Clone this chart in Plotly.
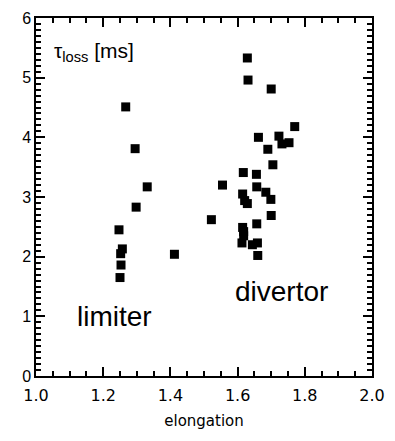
import plotly.graph_objects as go

limiter_x = [1.267, 1.295, 1.331, 1.298, 1.247, 1.257, 1.252, 1.412, 1.253, 1.250]
limiter_y = [4.51, 3.81, 3.17, 2.83, 2.45, 2.13, 2.05, 2.04, 1.86, 1.65]

divertor_x = [1.629, 1.631, 1.700, 1.770, 1.662, 1.723, 1.732, 1.753, 1.690,
              1.705, 1.617, 1.656, 1.555, 1.657, 1.684, 1.615, 1.699, 1.621,
              1.629, 1.700, 1.522, 1.657, 1.615, 1.618, 1.618, 1.613, 1.659,
              1.644, 1.660]
divertor_y = [5.33, 4.96, 4.81, 4.18, 4.00, 4.02, 3.89, 3.91, 3.80,
              3.54, 3.41, 3.38, 3.20, 3.17, 3.08, 3.05, 2.96, 2.94,
              2.89, 2.69, 2.62, 2.55, 2.49, 2.42, 2.35, 2.23, 2.23,
              2.20, 2.02]

x_ticks = [1.0, 1.2, 1.4, 1.6, 1.8, 2.0]
x_tick_labels = ["1.0", "1.2", "1.4", "1.6", "1.8", "2.0"]
y_ticks = [0, 1, 2, 3, 4, 5, 6]

marker = dict(symbol="square", size=9, color="black")

fig = go.Figure()
fig.add_trace(go.Scatter(x=limiter_x, y=limiter_y, mode="markers", marker=marker,
                         showlegend=False, name="limiter"))
fig.add_trace(go.Scatter(x=divertor_x, y=divertor_y, mode="markers", marker=marker,
                         showlegend=False, name="divertor"))

axis_common = dict(showline=True, linecolor="#000000", linewidth=1.5, mirror="allticks",
                   ticks="inside", tickcolor="#000000", tickwidth=2, showgrid=False,
                   zeroline=False, layer="above traces")

fig.update_xaxes(range=[1.0, 2.0], tickvals=x_ticks, ticktext=x_tick_labels,
                 ticklen=9, ticklabelstandoff=4,
                 minor=dict(dtick=0.05, ticks="inside", ticklen=5, tickcolor="#000000",
                            tickwidth=1.5, showgrid=False),
                 tickfont=dict(family="DejaVu Sans", size=16, color="black"),
                 title=dict(text="elongation", font=dict(family="DejaVu Sans", size=15, color="black"),
                            standoff=12),
                 **axis_common)
fig.update_yaxes(range=[0, 6], tickvals=y_ticks, ticklen=9,
                 minor=dict(dtick=0.1, ticks="inside", ticklen=5, tickcolor="#000000",
                            tickwidth=1.5, showgrid=False),
                 tickfont=dict(family="Liberation Sans", size=16, color="black"),
                 **axis_common)

fig.add_annotation(x=1.047, y=5.43, xref="x", yref="y", xanchor="left", yanchor="middle",
                   text="τ<sub>loss</sub> [ms]", showarrow=False,
                   font=dict(family="Liberation Sans", size=21, color="black"))
fig.add_annotation(x=1.235, y=1.0, xref="x", yref="y", text="limiter", showarrow=False,
                   font=dict(family="Liberation Sans", size=28, color="black"))
fig.add_annotation(x=1.73, y=1.41, xref="x", yref="y", text="divertor", showarrow=False,
                   font=dict(family="Liberation Sans", size=28, color="black"))

fig.update_layout(width=395, height=441, margin=dict(l=36, r=19, t=10, b=65),
                  plot_bgcolor="white", paper_bgcolor="white")

fig.write_html("out.html")
